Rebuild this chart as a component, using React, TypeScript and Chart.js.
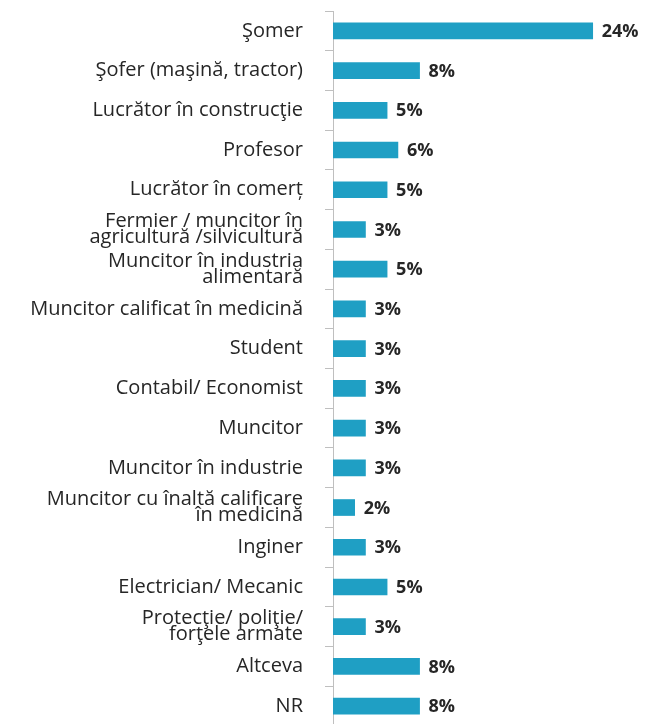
import React, { useEffect, useRef } from 'react';
import { Chart, registerables } from 'chart.js';

Chart.register(...registerables);

const categories: (string | string[])[] = [
  'Şomer',
  'Şofer (maşină, tractor)',
  'Lucrător în construcţie',
  'Profesor',
  'Lucrător în comerț',
  ['Fermier / muncitor în', 'agricultură /silvicultură'],
  ['Muncitor în industria', 'alimentară'],
  'Muncitor calificat în medicină',
  'Student',
  'Contabil/ Economist',
  'Muncitor',
  'Muncitor în industrie',
  ['Muncitor cu înaltă calificare', 'în medicină'],
  'Inginer',
  'Electrician/ Mecanic',
  ['Protecţie/ poliţie/', 'forţele armate'],
  'Altceva',
  'NR',
];

const values: number[] = [24, 8, 5, 6, 5, 3, 5, 3, 3, 3, 3, 3, 2, 3, 5, 3, 8, 8];

const valueLabelPlugin = {
  id: 'valueLabels',
  afterDatasetsDraw(chart: any) {
    const ctx = chart.ctx;
    const meta = chart.getDatasetMeta(0);
    ctx.save();
    ctx.font = 'bold 18px "Open Sans"';
    ctx.fillStyle = '#262626';
    ctx.textAlign = 'left';
    ctx.textBaseline = 'middle';
    meta.data.forEach((bar: any, i: number) => {
      ctx.fillText(values[i] + '%', bar.x + 9, bar.y + 1);
    });
    ctx.restore();
  },
};

export default function App() {
  const ref = useRef<HTMLCanvasElement | null>(null);
  useEffect(() => {
    if (!ref.current) return;
    const chart = new Chart(ref.current, {
      type: 'bar',
      data: {
        labels: categories as any,
        datasets: [
          {
            data: values,
            backgroundColor: '#1f9fc4',
            borderWidth: 0,
            barThickness: 16,
          },
        ],
      },
      options: {
        indexAxis: 'y',
        animation: false,
        responsive: false,
        maintainAspectRatio: false,
        layout: { padding: { top: 11, right: 13, bottom: 0, left: 0 } },
        plugins: {
          legend: { display: false },
          tooltip: { enabled: false },
        },
        scales: {
          x: {
            display: false,
            min: 0,
            max: 28,
          },
          y: {
            afterFit: (scale: any) => {
              scale.width = 333;
              scale.paddingTop = 0;
              scale.paddingBottom = 0;
            },
            grid: {
              display: true,
              drawOnChartArea: false,
              drawTicks: true,
              tickLength: 8,
              color: '#bfbfbf',
              offset: true,
            },
            border: { display: true, color: '#bfbfbf', width: 1 },
            ticks: {
              padding: 22,
              color: '#262626',
              font: { family: '"Open Sans"', size: 20, lineHeight: '16px' },
              autoSkip: false,
            },
          },
        },
      },
      plugins: [valueLabelPlugin],
    });
    return () => chart.destroy();
  }, []);
  return (
    <div style={{ position: 'fixed', left: 0, top: 0, width: 649, height: 726, background: '#fff' }}>
      <canvas ref={ref} width={649} height={726} style={{ width: 649, height: 726 }} />
    </div>
  );
}
